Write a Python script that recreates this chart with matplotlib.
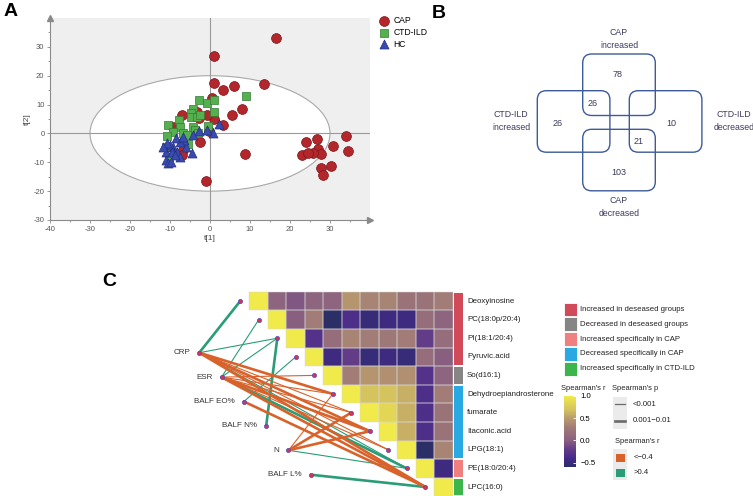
import numpy as np
import matplotlib
matplotlib.use('Agg')
import matplotlib.pyplot as plt
from matplotlib.patches import Ellipse, FancyBboxPatch, Rectangle
from matplotlib.colors import LinearSegmentedColormap, Normalize
from matplotlib.ticker import MultipleLocator

plt.rcParams['font.family'] = ['Liberation Sans', 'DejaVu Sans']

# ---------------- data ----------------
# Panel A: PCA score plot
cap_x = [16.5, 0.9, 0.9, 3.2, 6.0, 13.5, 7.9, 5.4, 3.3, 1.1, 0.4, -0.8, -3.3, -2.7, -0.2, -2.5,
         8.75, -1.1, -9.2, -7.1, -6.7, -7.1, 34.0, 34.6, 30.8, 26.7, 24.0, 27.1, 27.75, 25.7,
         23.0, 24.6, 30.2, 27.75, 28.3]
cap_y = [32.9, 26.8, 17.6, 15.2, 16.4, 17.2, 8.3, 6.3, 2.9, 5.0, 12.3, 6.3, 7.5, 5.2, 0.9, -3.1,
         -7.3, -16.4, 2.3, 6.3, -5.8, -7.5, -0.8, -6.0, -4.3, -2.1, -3.1, -5.4, -7.2, -6.7,
         -7.5, -6.9, -11.2, -12.1, -14.4]
ctd_x = [9.0, -2.8, -0.7, 1.0, 1.0, -4.2, -4.8, -4.8, -3.3, -2.5, -7.75, -7.5, -10.4, -9.2,
         -10.8, -4.2, -3.75, -0.4, -6.8, -5.8, -5.4, -11.0, -10.2, -2.9]
ctd_y = [13.1, 11.6, 10.4, 11.5, 7.5, 8.3, 7.2, 5.8, 5.8, 6.3, 4.8, 2.3, 2.8, 0.6,
         -0.8, 2.3, 1.2, 2.7, 0.2, -0.6, -3.5, -4.6, -8.1, 0.0]
hc_x = [2.25, 0.7, -0.8, -2.75, -4.2, -4.6, -6.1, -6.5, -7.5, -8.5, -9.2, -10.0, -10.8, -11.0,
        -9.6, -8.3, -7.5, -8.75, -11.0, -10.4, -9.8, -6.7, -11.7]
hc_y = [3.1, 0.0, 1.2, 0.9, -0.6, -6.9, -4.6, -2.3, -2.9, -1.7, -4.6, -4.0, -3.2, -6.3,
        -6.3, -6.3, -8.1, -7.5, -9.2, -10.4, -9.8, -1.2, -4.6]

# Panel B: Venn counts
venn_counts = [78, 26, 26, 10, 21, 103]
venn_labels = ['CAP\nincreased', 'CTD-ILD\nincreased', 'CTD-ILD\ndecreased', 'CAP\ndecreased']

# Panel C: correlation heatmap + links
metabolites = ['Deoxyinosine', 'PC(18:0p/20:4)', 'PI(18:1/20:4)', 'Pyruvic.acid', 'So(d16:1)',
               'Dehydroepiandrosterone', 'fumarate', 'Itaconic.acid', 'LPG(18:1)',
               'PE(18:0/20:4)', 'LPC(16:0)']
metab_group = [0, 0, 0, 0, 1, 3, 3, 3, 3, 2, 4]
group_names = ['Increased in deseased groups', 'Decreased in deseased groups',
               'Increased specifically in CAP', 'Decreased specifically in CAP',
               'Increased specifically in CTD-ILD']
group_colors = ['#d04a5a', '#858585', '#f08080', '#29a9e1', '#3cb54a']
corr_rows = [
    [1.0, 0.05, -0.05, 0.05, 0.05, 0.45, 0.35, 0.35, 0.2, 0.2, 0.3],
    [1.0, 0.0, 0.3, -0.6, -0.35, -0.5, -0.45, -0.45, 0.15, 0.05],
    [1.0, -0.3, 0.15, 0.35, 0.3, 0.25, 0.3, -0.2, 0.15],
    [1.0, -0.45, -0.2, -0.5, -0.45, -0.5, 0.15, 0.0],
    [1.0, 0.3, 0.45, 0.42, 0.42, -0.3, 0.05],
    [1.0, 0.7, 0.7, 0.6, -0.35, 0.3],
    [1.0, 0.85, 0.6, -0.35, 0.2],
    [1.0, 0.6, -0.35, 0.2],
    [1.0, -0.6, 0.35],
    [1.0, -0.45],
    [1.0],
]
env_vars = ['CRP', 'ESR', 'BALF EO%', 'BALF N%', 'N', 'BALF L%']
# links: env index, metabolite index, r > 0.4 (True) / r < -0.4 (False), p 0.001-0.01 (True = thick)
link_env = [0, 0, 1, 1, 2, 3, 4, 5, 1, 0,
            0, 0, 0, 0, 0, 1, 1, 1, 1, 1, 1, 2, 4, 4, 4]
link_met = [0, 2, 1, 2, 3, 2, 9, 10, 9, 9,
            5, 6, 7, 8, 10, 4, 5, 6, 7, 8, 10, 10, 5, 6, 7]
link_pos = [True] * 10 + [False] * 15
link_thick = [True, False, False, False, False, True, False, True, True, False,
              True, False, True, False, True, False, False, False, True, False, True, True,
              False, True, True]

# ---------------- figure ----------------
W, H = 753, 496
fig = plt.figure(figsize=(W / 100, H / 100), dpi=100)


def px_axes(x0, y0, x1, y1):
    return fig.add_axes([x0 / W, 1 - y1 / H, (x1 - x0) / W, (y1 - y0) / H])


# ---------- Panel A ----------
axA = px_axes(50, 18, 370, 220)
axA.set_facecolor('#efefef')
axA.add_patch(Ellipse((0, 0), 60, 40, facecolor='white', edgecolor='#a8a8a8', lw=0.8, zorder=0.5))
axA.axhline(0, color='#9a9a9a', lw=0.8, zorder=0.6)
axA.axvline(0, color='#9a9a9a', lw=0.8, zorder=0.6)
axA.scatter(cap_x, cap_y, s=50, marker='o', color='#b3262b', edgecolor='#7a1518', lw=0.5,
            label='CAP', zorder=3)
axA.scatter(ctd_x, ctd_y, s=38, marker='s', color='#55b04f', edgecolor='#367a33', lw=0.5,
            label='CTD-ILD', zorder=3)
axA.scatter(hc_x, hc_y, s=42, marker='^', color='#3a4bb0', edgecolor='#232f80', lw=0.5,
            label='HC', zorder=3)
axA.set_xlim(-40, 40)
axA.set_ylim(-30, 40)
axA.set_xticks(np.arange(-40, 31, 10))
axA.set_yticks(np.arange(-30, 31, 10))
axA.set_xticklabels([str(v) for v in range(-40, 31, 10)])
axA.set_yticklabels([str(v) for v in range(-30, 31, 10)])
axA.xaxis.set_minor_locator(MultipleLocator(5))
axA.yaxis.set_minor_locator(MultipleLocator(5))
for s in ['top', 'right']:
    axA.spines[s].set_visible(False)
for s in ['left', 'bottom']:
    axA.spines[s].set_color('#8a8a8a')
    axA.spines[s].set_linewidth(0.8)
axA.tick_params(which='both', colors='#8a8a8a', labelcolor='#555555', labelsize=5.5,
                length=2.5, width=0.6, pad=1.5)
axA.tick_params(which='minor', length=1.5)
axA.plot(1, 0, '>', color='#8a8a8a', ms=4, transform=axA.transAxes, clip_on=False)
axA.plot(0, 1, '^', color='#8a8a8a', ms=4, transform=axA.transAxes, clip_on=False)
axA.set_xlabel('t[1]', fontsize=6, color='#444444', labelpad=2)
axA.set_ylabel('t[2]', fontsize=6, color='#444444', labelpad=2)
axA.legend(loc='upper left', bbox_to_anchor=(1.005, 1.025), frameon=False, fontsize=6.2,
           handletextpad=0.1, labelspacing=0.3, borderaxespad=0, markerscale=1.0)

# ---------- Panel B ----------
axB = px_axes(430, 0, 753, 260)
axB.set_xlim(430, 753)
axB.set_ylim(260, 0)
axB.axis('off')
box_w, box_h, rad = 72.6, 61.5, 9
box_xy = [(582.7, 54), (537.3, 90.7), (629.3, 90.7), (582.7, 129.3)]
for bx, by in box_xy:
    axB.add_patch(FancyBboxPatch((bx + rad, by + rad), box_w - 2 * rad, box_h - 2 * rad,
                                 boxstyle=f'round,pad={rad}', fill=False,
                                 edgecolor='#3d5a99', lw=1.0))
label_xy = [(619, 39), (511, 121), (734, 121), (619, 207)]
for (lx, ly), lab in zip(label_xy, venn_labels):
    axB.text(lx, ly, lab, ha='center', va='center', fontsize=6.3, color='#3b3b5e',
             linespacing=1.5)
count_xy = [(617.7, 74.7), (592.7, 103.3), (558, 123.7), (671.3, 123.7), (638.7, 141.7),
            (619, 172.3)]
for (cx, cy), c in zip(count_xy, venn_counts):
    axB.text(cx, cy, str(c), ha='center', va='center', fontsize=6.5, color='#3b3b5e')

# ---------- Panel C ----------
cmap = LinearSegmentedColormap.from_list('spear', [
    (0.0, '#2b2f66'), (0.125, '#45298a'), (0.25, '#643c88'), (0.375, '#8a6080'),
    (0.5625, '#a27c76'), (0.6875, '#b99c6c'), (0.8125, '#d5c35e'), (1.0, '#f0ea4a')])
norm = Normalize(vmin=-0.6, vmax=1.0)

n = len(metabolites)
mat = np.full((n, n), np.nan)
for i, row in enumerate(corr_rows):
    mat[i, i:] = row

axC = px_axes(100, 280, 470, 496.3)
cx0 = (100 - 249) / 18.5 - 0.5
cx1 = (470 - 249) / 18.5 - 0.5
cy0 = (280 - 291.7) / 18.6 - 0.5
cy1 = (496.3 - 291.7) / 18.6 - 0.5
axC.set_xlim(cx0, cx1)
axC.set_ylim(cy1, cy0)
axC.axis('off')
edges = np.arange(n + 1) - 0.5
mesh = axC.pcolormesh(edges, edges, np.ma.masked_invalid(mat), cmap=cmap, norm=norm,
                      linewidth=0, zorder=1)
# light cell outlines on the upper triangle only
for i in range(n):
    for j in range(i, n):
        axC.add_patch(Rectangle((j - 0.5, i - 0.5), 1, 1, fill=False, edgecolor='#d8d8d8',
                                lw=0.35, zorder=1.2))

# annotation bar
runs = []
start = 0
for i in range(1, n + 1):
    if i == n or metab_group[i] != metab_group[start]:
        runs.append((start, i - 1, metab_group[start]))
        start = i
for a, b, g in runs:
    axC.add_patch(Rectangle((10.56, a - 0.5 + 0.05), 0.5, b - a + 0.9,
                            facecolor=group_colors[g], edgecolor='none', clip_on=False))
for i, name in enumerate(metabolites):
    axC.text(11.28, i, name, ha='left', va='center', fontsize=5.7, color='#222222',
             clip_on=False)

# links
env_x = np.linspace(-3.19, 2.84, len(env_vars))
env_y = np.linspace(2.78, 9.34, len(env_vars))
end_x = np.arange(n) - 0.97
end_y = np.arange(n)
for e, m, pos, thick in zip(link_env, link_met, link_pos, link_thick):
    axC.plot([env_x[e], end_x[m]], [env_y[e], end_y[m]],
             color='#2a9d78' if pos else '#d9622b', lw=1.9 if thick else 0.8,
             solid_capstyle='round', zorder=2)
axC.scatter(env_x, env_y, s=9, color='#d8344f', edgecolor='#4a4ac8', lw=0.5, zorder=4)
axC.scatter(end_x, end_y, s=9, color='#d8344f', edgecolor='#4a4ac8', lw=0.5, zorder=4)
for x, y, name in zip(env_x, env_y, env_vars):
    axC.text(x - 0.5, y, name, ha='right', va='center', fontsize=5.8, color='#333333')

# legends for panel C
axL = px_axes(550, 280, 753, 496)
axL.set_xlim(550, 753)
axL.set_ylim(496, 280)
axL.axis('off')
for i, (name, col) in enumerate(zip(group_names, group_colors)):
    yc = 309.5 + 14.8 * i
    axL.add_patch(Rectangle((564, yc - 6.9), 12.5, 13.8, facecolor=col, edgecolor='white', lw=0.6))
    axL.text(580, yc, name, ha='left', va='center', fontsize=5.6, color='#222222')

axL.text(561, 388, "Spearman's r", ha='left', va='center', fontsize=5.4, color='#222222')
axL.text(611.5, 388, "Spearman's p", ha='left', va='center', fontsize=5.4, color='#222222')
axL.add_patch(Rectangle((613, 396.5), 14, 32, facecolor='#ebebeb', edgecolor='none'))
axL.plot([615, 625], [404, 404], color='#6a6a6a', lw=0.9)
axL.plot([615, 625], [420.5, 420.5], color='#6a6a6a', lw=1.9)
axL.text(633, 404, '<0.001', ha='left', va='center', fontsize=5.6, color='#222222')
axL.text(633, 420.5, '0.001\u22120.01', ha='left', va='center', fontsize=5.6, color='#222222')
axL.text(615, 441.5, "Spearman's r", ha='left', va='center', fontsize=5.4, color='#222222')
axL.add_patch(Rectangle((613, 449), 14, 31, facecolor='#ebebeb', edgecolor='none'))
axL.add_patch(Rectangle((616, 453.5), 8.5, 8.5, facecolor='#d9622b', edgecolor='none'))
axL.add_patch(Rectangle((616, 468.5), 8.5, 8.5, facecolor='#2a9d78', edgecolor='none'))
axL.text(634, 457.7, '<\u22120.4', ha='left', va='center', fontsize=5.6, color='#222222')
axL.text(634, 472.7, '>0.4', ha='left', va='center', fontsize=5.6, color='#222222')

cax = px_axes(564, 396, 576, 467)
cb = fig.colorbar(mesh, cax=cax)
cb.outline.set_visible(False)
cb.set_ticks([-0.5, 0.0, 0.5, 1.0])
cb.set_ticklabels(['\u22120.5', '0.0', '0.5', '1.0'])
cb.ax.tick_params(length=2, width=0.6, color='white', direction='in', labelsize=5.6, pad=3)

# panel letters
fig.text(4 / W, 1 - 12 / H, 'A', fontsize=14, fontweight='bold', va='center', ha='left')
fig.text(432 / W, 1 - 13 / H, 'B', fontsize=14, fontweight='bold', va='center', ha='left')
fig.text(102 / W, 1 - 282 / H, 'C', fontsize=14, fontweight='bold', va='center', ha='left')

fig.savefig('out.png', dpi=100)
